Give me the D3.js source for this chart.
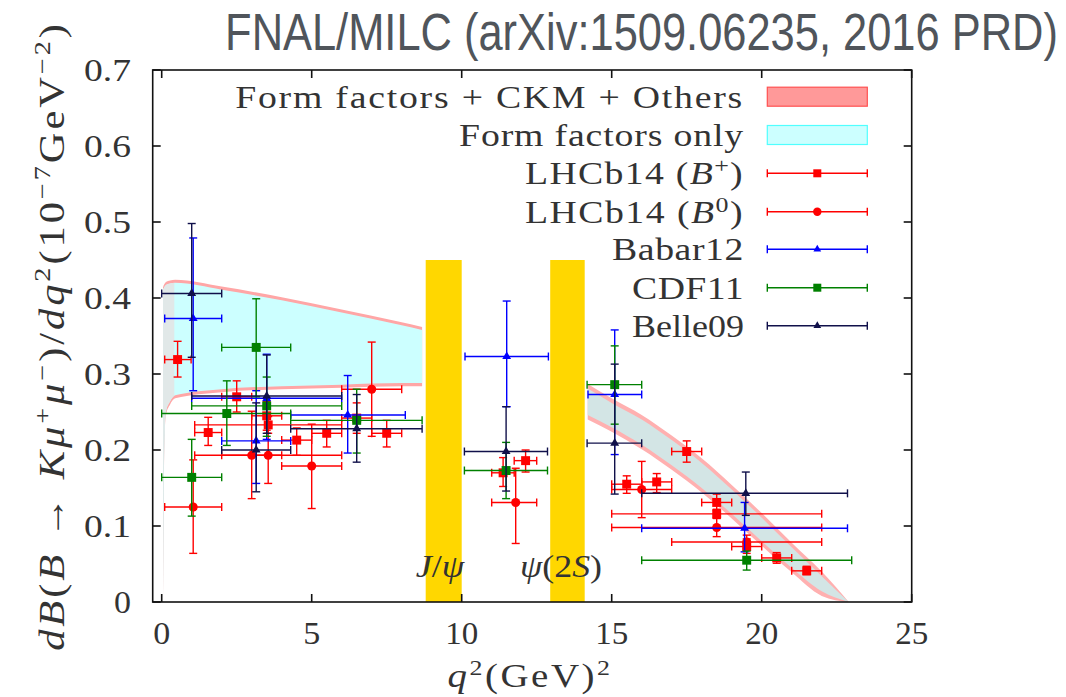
<!DOCTYPE html>
<html>
<head>
<meta charset="utf-8">
<script src="https://cdn.jsdelivr.net/npm/d3@7"></script>
<style>
body { margin: 0; background: #fff; }
svg text { font-family: "Liberation Serif", serif; fill: #333; }
</style>
</head>
<body>
<svg id="chart" width="1066" height="697"></svg>
<script>
// each row: [q2 min, q2 max, q2, value, value low, value high]
const lhcbBplus = [
    [0.1, 0.98, 0.53, 0.319, 0.296, 0.343],
    [1.1, 2.0, 1.55, 0.223, 0.206, 0.243],
    [2.0, 3.0, 2.5, 0.270, 0.250, 0.291],
    [3.0, 4.0, 3.5, 0.245, 0.226, 0.264],
    [4.0, 5.0, 4.5, 0.213, 0.193, 0.229],
    [5.0, 6.0, 5.5, 0.222, 0.204, 0.239],
    [6.0, 7.0, 6.5, 0.242, 0.222, 0.262],
    [7.0, 8.0, 7.5, 0.222, 0.204, 0.239],
    [11.0, 11.75, 11.38, 0.170, 0.152, 0.190],
    [11.75, 12.5, 12.13, 0.186, 0.171, 0.200],
    [15.0, 16.0, 15.5, 0.155, 0.143, 0.166],
    [16.0, 17.0, 16.5, 0.158, 0.144, 0.169],
    [17.0, 18.0, 17.5, 0.198, 0.184, 0.212],
    [18.0, 19.0, 18.5, 0.131, 0.121, 0.142],
    [19.0, 20.0, 19.5, 0.073, 0.064, 0.083],
    [20.0, 21.0, 20.5, 0.058, 0.051, 0.065],
    [21.0, 22.0, 21.5, 0.041, 0.036, 0.047],
    [1.1, 6.0, 3.55, 0.233, 0.222, 0.244],
    [15.0, 22.0, 18.5, 0.116, 0.110, 0.122]
];
const lhcbB0 = [
    [0.1, 2.0, 1.05, 0.125, 0.064, 0.187],
    [2.0, 4.0, 3.0, 0.193, 0.136, 0.251],
    [4.0, 6.0, 5.0, 0.179, 0.123, 0.234],
    [6.0, 8.0, 7.0, 0.280, 0.218, 0.342],
    [11.0, 12.5, 11.8, 0.131, 0.077, 0.176],
    [15.0, 17.0, 16.0, 0.148, 0.111, 0.185],
    [17.0, 22.0, 19.5, 0.079, 0.070, 0.088],
    [1.1, 6.0, 3.55, 0.193, 0.156, 0.232],
    [15.0, 22.0, 18.5, 0.098, 0.086, 0.110]
];
const babar12 = [
    [0.1, 2.0, 1.05, 0.373, 0.278, 0.479],
    [2.0, 4.3, 3.15, 0.212, 0.156, 0.278],
    [4.3, 8.12, 6.2, 0.246, 0.196, 0.298],
    [10.11, 12.89, 11.5, 0.323, 0.257, 0.396],
    [14.21, 16.0, 15.1, 0.273, 0.194, 0.358],
    [16.0, 22.86, 19.43, 0.097, 0.066, 0.131],
    [1.0, 6.0, 3.5, 0.268, 0.214, 0.326]
];
const cdf11 = [
    [0.0, 2.0, 1.0, 0.164, 0.113, 0.214],
    [2.0, 4.3, 3.15, 0.335, 0.270, 0.399],
    [0.0, 4.3, 2.17, 0.248, 0.206, 0.291],
    [1.0, 6.0, 3.5, 0.258, 0.218, 0.296],
    [4.3, 8.68, 6.5, 0.239, 0.196, 0.280],
    [10.09, 12.86, 11.48, 0.173, 0.136, 0.210],
    [14.18, 16.0, 15.1, 0.286, 0.234, 0.337],
    [16.0, 23.0, 19.5, 0.055, 0.042, 0.067]
];
const belle09 = [
    [0.0, 2.0, 1.0, 0.406, 0.322, 0.498],
    [2.0, 4.3, 3.15, 0.200, 0.145, 0.262],
    [4.3, 8.68, 6.5, 0.228, 0.184, 0.273],
    [10.09, 12.86, 11.48, 0.198, 0.146, 0.257],
    [14.18, 16.0, 15.1, 0.209, 0.142, 0.313],
    [16.0, 22.86, 19.47, 0.143, 0.114, 0.171],
    [1.0, 6.0, 3.5, 0.271, 0.222, 0.325]
];

// form-factor-only prediction bands (edges), low and high q2
const lowQ2 = [0.045, 0.07, 0.1, 0.14, 0.28, 0.45, 2, 4, 6, 8, 8.68];
const lowHi = [0.410, 0.413, 0.415, 0.417, 0.419, 0.420, 0.411, 0.397, 0.381, 0.364, 0.358];
const lowLo = [0.0, 0.150, 0.225, 0.250, 0.264, 0.272, 0.280, 0.284, 0.286, 0.288, 0.288];
const highQ2 = [14.2, 15, 16, 17, 18, 19, 20, 21, 22, 22.9];
const highHi = [0.281, 0.262, 0.240, 0.213, 0.183, 0.148, 0.111, 0.072, 0.034, 0.0];
const highLo = [0.246, 0.230, 0.207, 0.180, 0.150, 0.116, 0.080, 0.045, 0.014, 0.0];
// extra width of the full (form factors + CKM + others) band
const lowExtra = 0.004;
const highExtra = 0.006;

const vetoBands = [[8.8, 10.0], [12.95, 14.1]];
const vetoTop = 0.45;

const xTicks = [0, 5, 10, 15, 20, 25];
const yTicks = [0, 0.1, 0.2, 0.3, 0.4, 0.5, 0.6, 0.7];
const yTickLabels = ["0", "0.1", "0.2", "0.3", "0.4", "0.5", "0.6", "0.7"];

const svg = d3.select("#chart");
const x = d3.scaleLinear().domain([-0.3, 25]).range([152.7, 911.7]);
const y = d3.scaleLinear().domain([0, 0.7]).range([602, 70]);

function richText(sel, parts) {
    parts.forEach(p => {
        const t = sel.append("tspan").text(p.t);
        if (p.i) t.attr("font-style", "italic");
        if (p.dy) t.attr("dy", p.dy);
        if (p.fs) t.attr("font-size", p.fs);
    });
    return sel;
}

// text fitted to a given width (mimics the wider TeX font): a scale, plus a little spacing if needed
function fitText(x0, y0, width, anchor, fontSize, parts, rotate, family, color) {
    const g = svg.append("g");
    const t = g.append("text").attr("font-size", fontSize).attr("text-anchor", anchor);
    if (family) t.style("font-family", family);
    if (color) t.style("fill", color);
    richText(t, parts);
    const w0 = t.node().getBBox().width;
    const maxStretch = 1.18;
    if (width / w0 > maxStretch) {
        const n = parts.reduce((s, p) => s + p.t.length, 0);
        t.attr("letter-spacing", (width / maxStretch - w0) / n);
    }
    const sx = width / t.node().getBBox().width;
    g.attr("transform", `translate(${x0},${y0})` + (rotate ? ` rotate(${rotate})` : "") + ` scale(${sx},1)`);
    return t;
}

// ---- theory bands
const area = d3.area()
    .x(d => x(d[0]))
    .y0(d => y(d[1]))
    .y1(d => y(d[2]))
    .curve(d3.curveMonotoneX);

const lowBand = d3.zip(lowQ2, lowLo, lowHi);
const lowTotal = lowBand.map(d => [d[0], Math.max(0, d[1] - lowExtra), d[2] + lowExtra]);
const highBand = d3.zip(highQ2, highLo, highHi);
const highTotal = highBand.map(d => [d[0], Math.max(0, d[1] - highExtra), d[2] + (d[2] > 0 ? highExtra : 0)]);

svg.append("path").attr("d", area(lowTotal)).attr("fill", "#ffa6a6");
svg.append("path").attr("d", area(highTotal)).attr("fill", "#ffb0b0");

svg.append("defs").append("clipPath").attr("id", "lowclip")
    .append("path").attr("d", area(lowBand));
svg.append("path").attr("d", area(lowBand)).attr("fill", "#ccffff");
svg.append("rect")
    .attr("clip-path", "url(#lowclip)")
    .attr("x", x(0)).attr("y", y(0.45))
    .attr("width", x(0.42) - x(0)).attr("height", y(0) - y(0.45))
    .attr("fill", "#e1e8e8");
svg.append("path").attr("d", area(highBand)).attr("fill", "#d3e5e5");

// ---- J/psi and psi(2S) vetoes
svg.selectAll("rect.veto").data(vetoBands).join("rect")
    .attr("class", "veto")
    .attr("x", d => x(d[0]))
    .attr("width", d => x(d[1]) - x(d[0]))
    .attr("y", y(vetoTop))
    .attr("height", y(0) - y(vetoTop))
    .attr("fill", "#ffd700");

// ---- data with error bars
const cap = 4;
function drawSeries(rows, color, symbolType, size) {
    const g = svg.append("g").attr("stroke", color).attr("stroke-width", 1.4).attr("fill", "none");
    rows.forEach(r => {
        const [a, b, q, v, lo, hi] = r;
        const px = x(q), py = y(v);
        g.append("line").attr("x1", x(a)).attr("x2", x(b)).attr("y1", py).attr("y2", py);
        g.append("line").attr("x1", px).attr("x2", px).attr("y1", y(lo)).attr("y2", y(hi));
        [a, b].forEach(e => g.append("line")
            .attr("x1", x(e)).attr("x2", x(e)).attr("y1", py - cap).attr("y2", py + cap));
        [lo, hi].forEach(e => g.append("line")
            .attr("x1", px - cap).attr("x2", px + cap).attr("y1", y(e)).attr("y2", y(e)));
    });
    svg.append("g").selectAll("path").data(rows).join("path")
        .attr("d", d3.symbol().type(symbolType).size(size))
        .attr("transform", d => `translate(${x(d[2])},${y(d[3])})`)
        .attr("fill", color);
}

drawSeries(lhcbBplus, "#ff0000", d3.symbolSquare, 80);
drawSeries(lhcbB0, "#ff0000", d3.symbolCircle, 64);
drawSeries(babar12, "#0000ff", d3.symbolTriangle, 34);
drawSeries(cdf11, "#008000", d3.symbolSquare, 80);
drawSeries(belle09, "#10104a", d3.symbolTriangle, 34);

// ---- veto labels
fitText(440, 577, 50, "middle", 32, [{t: "J", i: true}, {t: "/"}, {t: "ψ", i: true}]);
fitText(561, 577, 82, "middle", 32, [{t: "ψ", i: true}, {t: "(2"}, {t: "S", i: true}, {t: ")"}]);

// ---- frame and ticks
const x0 = x.range()[0], x1 = x.range()[1], y0 = y.range()[0], y1 = y.range()[1];
const tl = 8;
const axes = svg.append("g").attr("stroke", "#111").attr("stroke-width", 1.6);
axes.append("rect").attr("x", x0).attr("y", y1).attr("width", x1 - x0).attr("height", y0 - y1).attr("fill", "none");
yTicks.forEach(t => {
    axes.append("line").attr("x1", x0).attr("x2", x0 + tl).attr("y1", y(t)).attr("y2", y(t));
    axes.append("line").attr("x1", x1).attr("x2", x1 - tl).attr("y1", y(t)).attr("y2", y(t));
});
xTicks.forEach(t => {
    axes.append("line").attr("x1", x(t)).attr("x2", x(t)).attr("y1", y0).attr("y2", y0 - tl);
    axes.append("line").attr("x1", x(t)).attr("x2", x(t)).attr("y1", y1).attr("y2", y1 + tl);
});

yTicks.forEach((d, i) => {
    const lab = yTickLabels[i];
    fitText(131, y(d) + 11, (lab.length === 1 ? 17 : 47), "end", 32, [{t: lab}]);
});
xTicks.forEach(d => {
    const lab = String(d);
    fitText(x(d), 644, (lab.length === 1 ? 17 : 33), "middle", 32, [{t: lab}]);
});

// axis titles
fitText(530, 687, 165, "middle", 33,
    [{t: "q", i: true}, {t: "2", dy: -12, fs: 22}, {t: "(GeV)", dy: 12}, {t: "2", dy: -12, fs: 22}]);

fitText(64, 336, 630, "middle", 36,
    [{t: "dB", i: true}, {t: "("}, {t: "B", i: true}, {t: " → "}, {t: "Kμ", i: true},
     {t: "+", dy: -14, fs: 24}, {t: "μ", i: true, dy: 14}, {t: "−", dy: -14, fs: 24},
     {t: ")/", dy: 14}, {t: "dq", i: true}, {t: "2", dy: -14, fs: 24},
     {t: "(10", dy: 14}, {t: "−7", dy: -14, fs: 24}, {t: "GeV", dy: 14}, {t: "−2", dy: -14, fs: 24},
     {t: ")", dy: 14}], -90);

// title
fitText(641.5, 50, 833, "middle", 51, [{t: "FNAL/MILC (arXiv:1509.06235, 2016 PRD)"}],
    0, "'Liberation Sans', Arial, sans-serif", "#50555b");

// ---- legend
const legendRows = [96.7, 135, 173.3, 211.7, 249.3, 287.7, 325.7];
const legendLabels = [
    [{t: "Form factors + CKM + Others"}],
    [{t: "Form factors only"}],
    [{t: "LHCb14 ("}, {t: "B", i: true}, {t: "+", dy: -11, fs: 22}, {t: ")", dy: 11}],
    [{t: "LHCb14 ("}, {t: "B", i: true}, {t: "0", dy: -11, fs: 22}, {t: ")", dy: 11}],
    [{t: "Babar12"}],
    [{t: "CDF11"}],
    [{t: "Belle09"}]
];
const legendWidths = [509, 285, 219, 219, 132, 112, 112];
const lx0 = 767.3, lx1 = 867.3, ltx = 744;
legendLabels.forEach((parts, i) => {
    fitText(ltx, legendRows[i] + 11, legendWidths[i], "end", 32, parts);
});
svg.append("rect").attr("x", lx0).attr("y", legendRows[0] - 9.5).attr("width", lx1 - lx0).attr("height", 19)
    .attr("fill", "#ff9999").attr("stroke", "#ff5050").attr("stroke-width", 1.2);
svg.append("rect").attr("x", lx0).attr("y", legendRows[1] - 9.5).attr("width", lx1 - lx0).attr("height", 19)
    .attr("fill", "#ccffff").attr("stroke", "#50ffff").attr("stroke-width", 1.2);

const legendSeries = [
    ["#ff0000", d3.symbolSquare, 64],
    ["#ff0000", d3.symbolCircle, 56],
    ["#0000ff", d3.symbolTriangle, 26],
    ["#008000", d3.symbolSquare, 64],
    ["#10104a", d3.symbolTriangle, 26]
];
legendSeries.forEach((s, i) => {
    const yy = legendRows[i + 2];
    const g = svg.append("g").attr("stroke", s[0]).attr("stroke-width", 1.4);
    g.append("line").attr("x1", lx0).attr("x2", lx1).attr("y1", yy).attr("y2", yy);
    [lx0, lx1].forEach(e => g.append("line").attr("x1", e).attr("x2", e).attr("y1", yy - cap).attr("y2", yy + cap));
    svg.append("path").attr("d", d3.symbol().type(s[1]).size(s[2]))
        .attr("transform", `translate(${(lx0 + lx1) / 2},${yy})`).attr("fill", s[0]);
});
</script>
</body>
</html>
